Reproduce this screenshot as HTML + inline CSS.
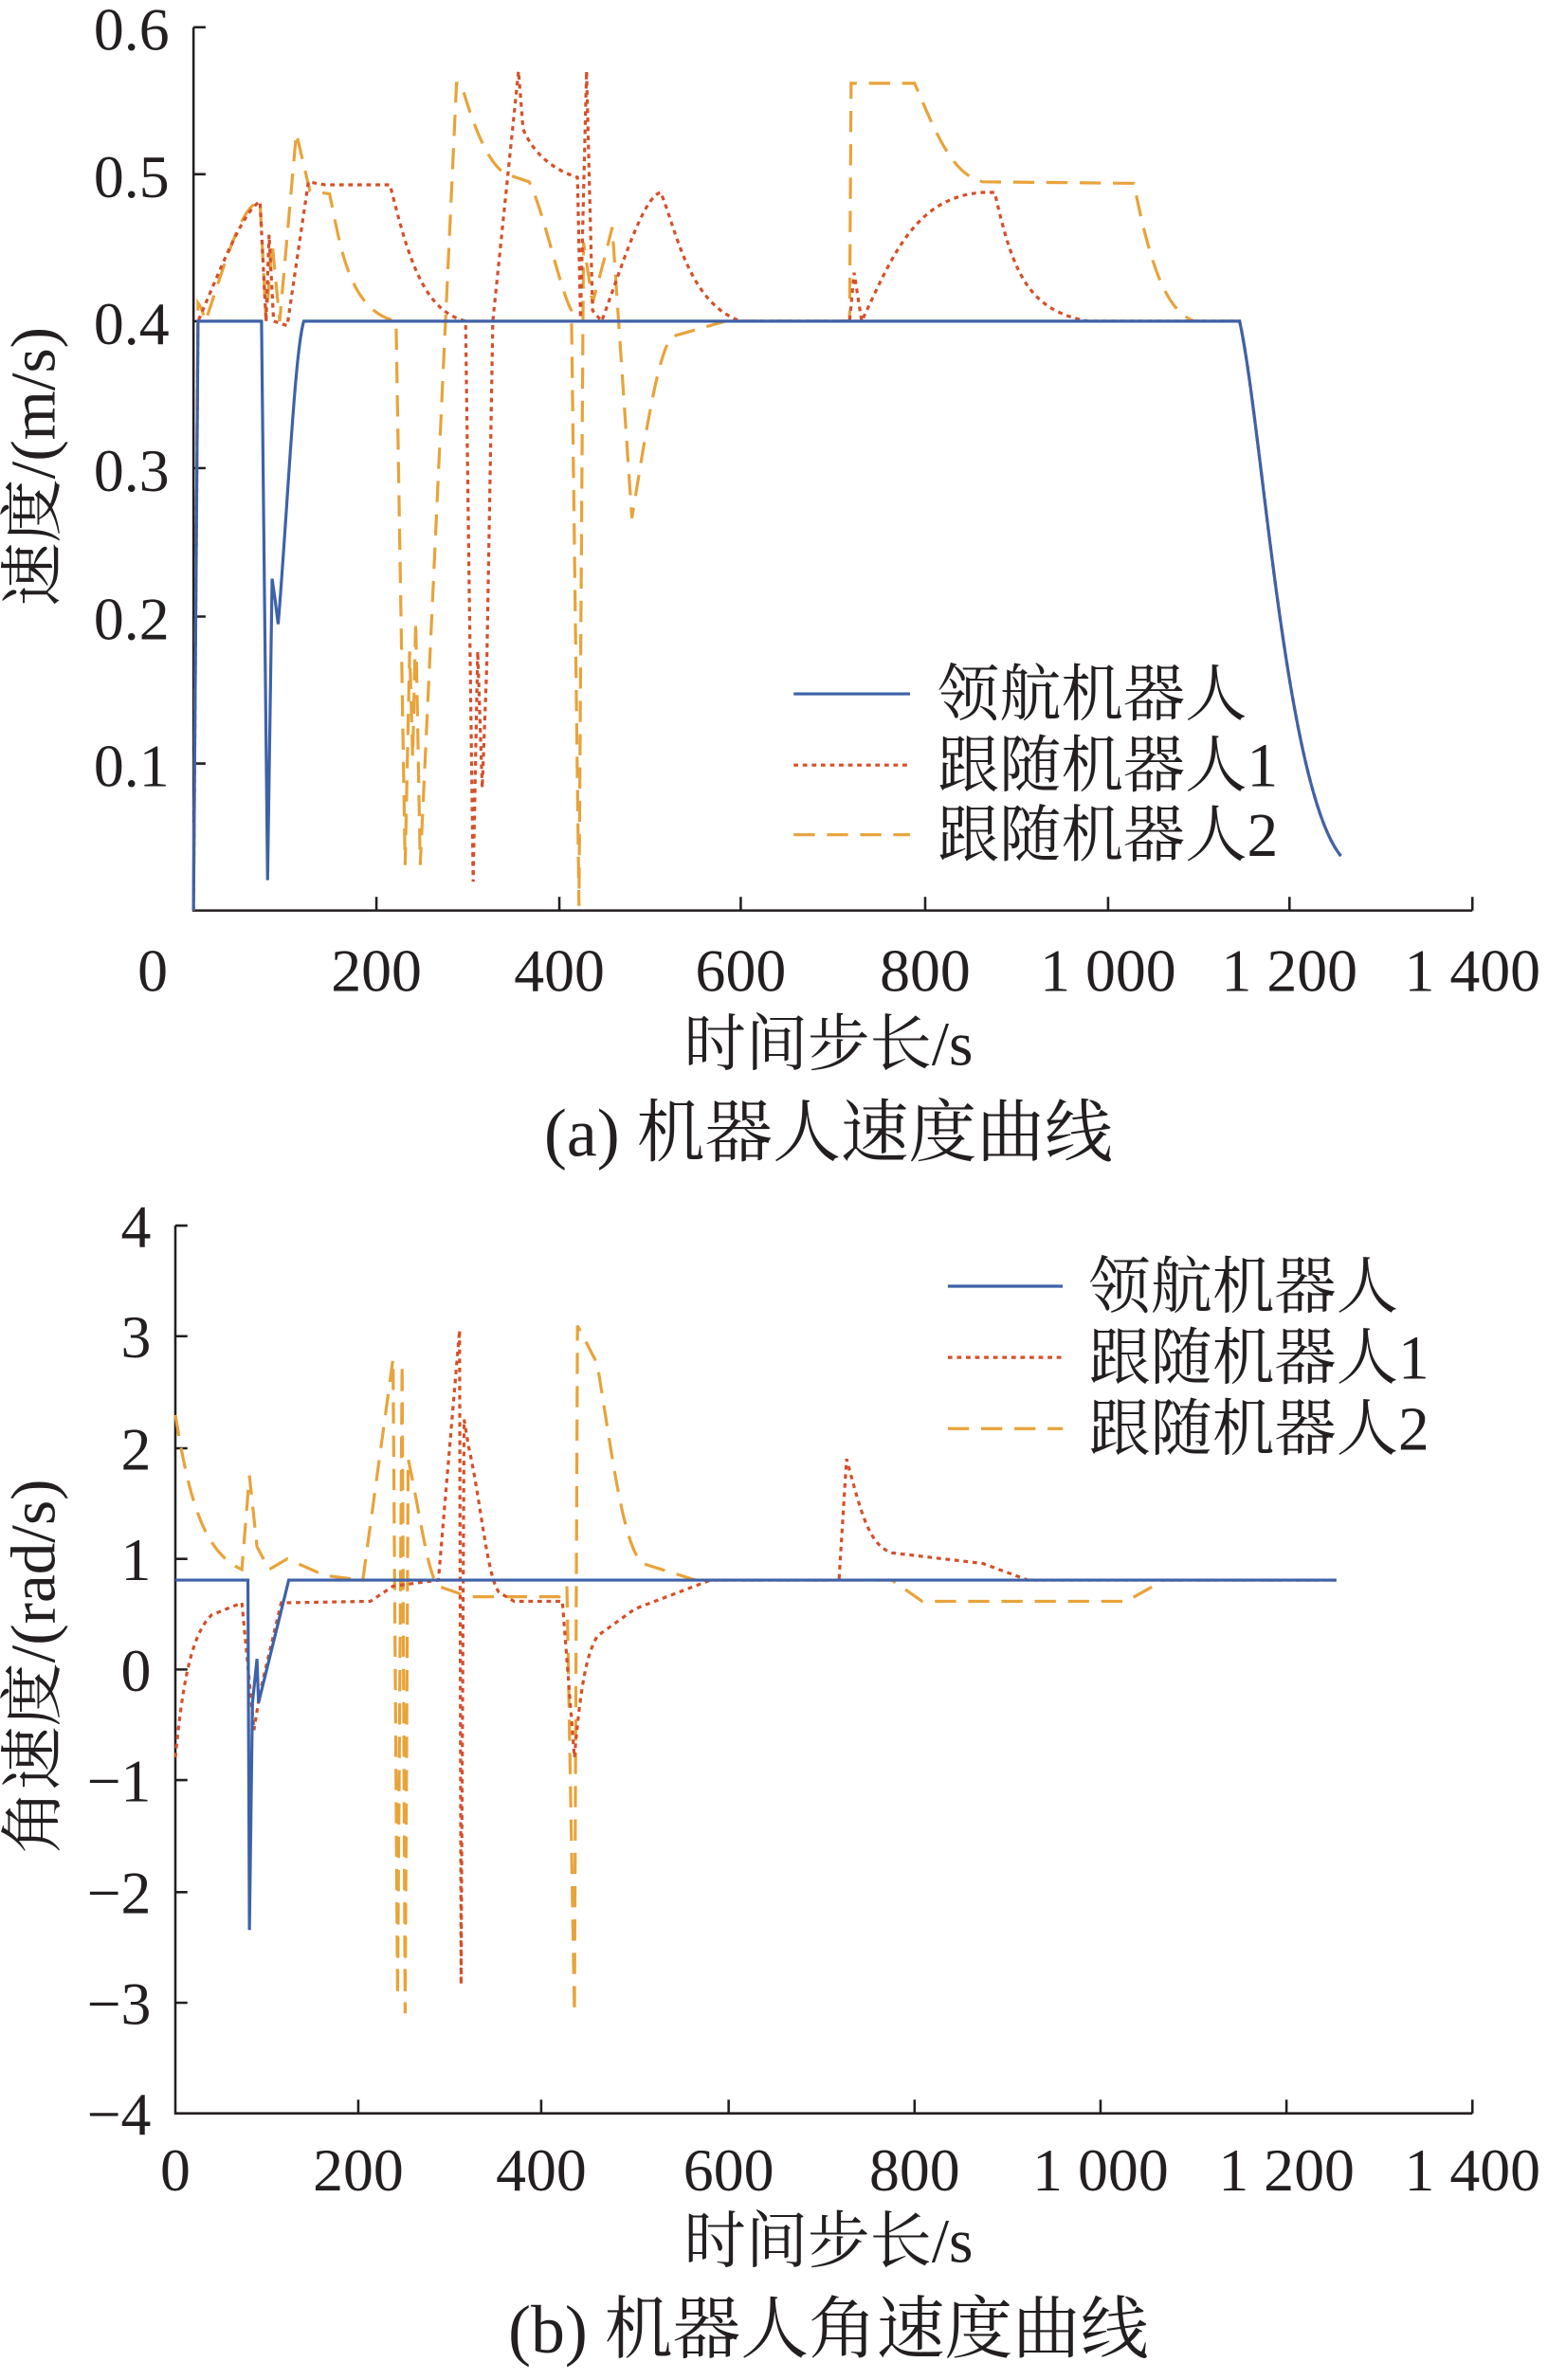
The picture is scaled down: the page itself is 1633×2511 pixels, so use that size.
<!DOCTYPE html>
<html><head><meta charset="utf-8"><style>
html,body{margin:0;padding:0;background:#fff;}
svg{display:block;}
text{font-family:"Liberation Serif","Noto Serif CJK SC","Noto Sans CJK SC",serif;fill:#231f20;}
</style></head><body>
<svg width="1633" height="2511" viewBox="0 0 1024 1571" preserveAspectRatio="none" xmlns="http://www.w3.org/2000/svg">
<g stroke="#231f20" stroke-width="1.6" fill="none">
<path d="M128,18 V601 H974"/>
<path d="M128,18h8M128,115h8M128,212h8M128,309h8M128,407h8M128,504h8"/>
<path d="M249,601v-9M370,601v-9M490,601v-9M612,601v-9M733,601v-9M853,601v-9M974,601v-9"/>
<path d="M116,809 V1395 H974"/>
<path d="M116,809h8M116,882h8M116,956h8M116,1029h8M116,1102h8M116,1175h8M116,1249h8M116,1322h8"/>
<path d="M237,1395v-9M358,1395v-9M482,1395v-9M605,1395v-9M728,1395v-9M851,1395v-9M974,1395v-9"/>
</g>
<g font-size="40" text-anchor="end">
<text x="112" y="33">0.6</text><text x="112" y="130">0.5</text><text x="112" y="227">0.4</text>
<text x="112" y="324">0.3</text><text x="112" y="422">0.2</text><text x="112" y="519">0.1</text>
<text x="100" y="823">4</text><text x="100" y="896">3</text><text x="100" y="970">2</text><text x="100" y="1043">1</text>
<text x="100" y="1116">0</text><text x="100" y="1189">−1</text><text x="100" y="1263">−2</text><text x="100" y="1336">−3</text><text x="100" y="1409">−4</text>
</g>
<g font-size="40" text-anchor="middle">
<text x="101" y="654">0</text><text x="249" y="654">200</text><text x="370" y="654">400</text><text x="490" y="654">600</text>
<text x="612" y="654">800</text><text x="733" y="654">1 000</text><text x="853" y="654">1 200</text><text x="974" y="654">1 400</text>
<text x="116" y="1446">0</text><text x="237" y="1446">200</text><text x="358" y="1446">400</text><text x="482" y="1446">600</text>
<text x="605" y="1446">800</text><text x="728" y="1446">1 000</text><text x="851" y="1446">1 200</text><text x="974" y="1446">1 400</text>
<text x="548" y="703" font-size="41">时间步长/s</text>
<text x="548" y="763" font-size="45">(a)  机器人速度曲线</text>
<text x="548" y="1493" font-size="41">时间步长/s</text>
<text x="548" y="1553" font-size="45">(b)  机器人角速度曲线</text>
<text transform="translate(36,308) rotate(-90)" font-size="42">速度/(m/s)</text>
<text transform="translate(36,1100) rotate(-90)" font-size="42">角速度/(rad/s)</text>
</g>
<g font-size="41">
<text x="620" y="472">领航机器人</text><text x="620" y="519">跟随机器人1</text><text x="620" y="565">跟随机器人2</text>
<text x="720" y="863">领航机器人</text><text x="720" y="910">跟随机器人1</text><text x="720" y="957">跟随机器人2</text>
</g>
<g fill="none" stroke-width="2">
<path stroke="#3e62a8" d="M525,458H602M627,849H703"/>
<path stroke="#d4502a" stroke-dasharray="3,3" d="M525,505H602M627,896H703"/>
<path stroke="#e8a33a" stroke-dasharray="14,8" d="M525,551H602M627,943H703"/>
</g>
<path fill="none" stroke="#e8a33a" stroke-width="2" stroke-dasharray="14,8" d="M128,601 L131,200 L133,203 L136,212 C150,170 160,135 172,133 L176,212 L180,160 L185,212 L196,88 L205,126 L218,128 C225,160 230,205 262,212 L268,571 L271,430 L273,500 L275,410 L278,571 L302,55 L305,55 C315,90 325,110 335,115 L350,120 C360,140 370,190 378,205 L383,598 L386,160 L392,200 L400,170 L405,150 L418,342 C425,300 435,230 445,222 L480,212 L562,212 L563,55 L605,55 C620,90 630,115 650,120 L750,121 C760,170 770,205 790,212 L820,212 C835,280 850,520 887,565"/>
<path fill="none" stroke="#d4502a" stroke-width="2" stroke-dasharray="3,3" d="M128,601 L131,212 C145,180 160,140 172,133 L176,212 L178,155 L181,212 L190,215 L204,120 L215,122 L258,122 C270,170 280,205 308,212 L313,582 L316,430 L319,520 L322,440 L326,212 L343,47 L346,85 C352,100 365,112 382,117 L384,210 L388,47 L392,205 L398,212 C410,180 425,130 437,127 C447,150 455,200 490,212 L562,212 L565,180 L570,212 C590,170 605,130 650,127 L658,127 C670,180 680,205 720,212 L820,212 C835,280 850,520 887,565"/>
<path fill="none" stroke="#3e62a8" stroke-width="2" d="M128,601 L131,212 L173,212 L177,581 L180,382 L182,396 L184,412 C190,340 195,230 201,212 L820,212 C835,280 850,520 887,565"/>
<path fill="none" stroke="#e8a33a" stroke-width="2" stroke-dasharray="14,8" d="M116,934 C125,990 135,1025 160,1036 L165,974 L170,1021 L178,1036 L190,1029 L215,1040 L240,1043 L260,897 L263,1318 L266,900 L268,1329 L270,963 C278,1000 283,1040 290,1047 L310,1054 L370,1054 L375,1047 L380,1329 L382,875 L395,900 C405,960 412,1020 425,1032 L460,1043 L590,1043 L610,1057 L745,1057 L770,1043 L884,1043"/>
<path fill="none" stroke="#d4502a" stroke-width="2" stroke-dasharray="3,3" d="M116,1160 C120,1120 125,1080 140,1066 L160,1058 L168,1142 L172,1117 L186,1058 L245,1057 L260,1047 L290,1043 L304,878 L305,1310 L307,937 L310,955 C318,990 322,1040 330,1051 L340,1057 L372,1057 L380,1160 C385,1100 390,1090 395,1080 L420,1062 L470,1043 L555,1043 L560,963 C570,1000 575,1020 590,1025 L650,1032 L680,1043 L884,1043"/>
<path fill="none" stroke="#3e62a8" stroke-width="2" d="M116,1043 L164,1043 L165,1274 L167,1124 L170,1095 L171,1124 L191,1043 L884,1043"/>
</svg>
</body></html>
